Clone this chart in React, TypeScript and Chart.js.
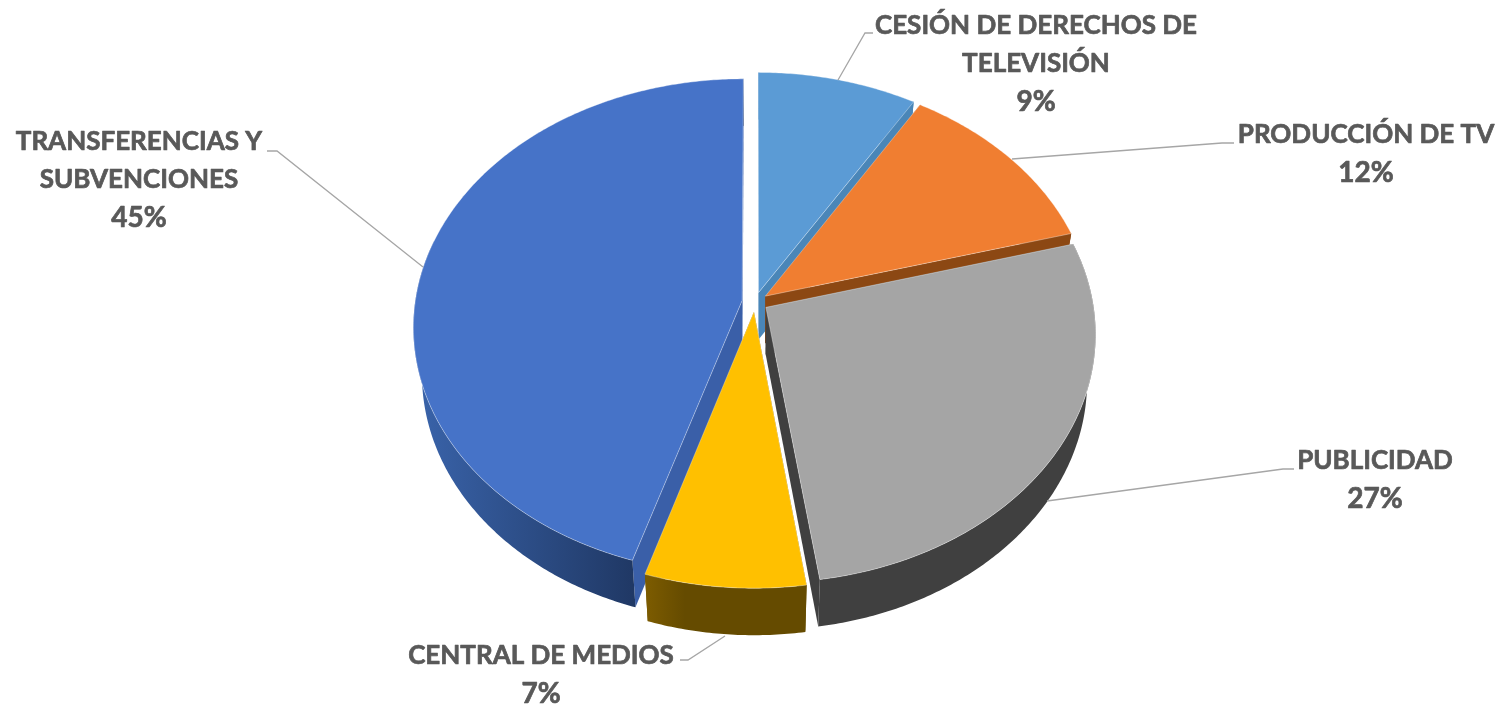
import React, { useEffect, useRef } from "react";
import { Chart, registerables } from "chart.js";

Chart.register(...registerables);

const categories = [
  "CESIÓN DE DERECHOS DE TELEVISIÓN",
  "PRODUCCIÓN DE TV",
  "PUBLICIDAD",
  "CENTRAL DE MEDIOS",
  "TRANSFERENCIAS Y SUBVENCIONES",
];
const shares = [8.7, 12.05, 26.95, 7.12, 45.18];
const topColours = ["#5b9bd5", "#f07e31", "#a5a5a5", "#ffc000", "#4673c8"];
const edgeColours = ["#4a86b8", "#8c4813", "#404040", "#6b5000", "#3a5fa8"];
const rimStartColours = ["#4a86b8", "#8c4813", "#404040", "#7d5c00", "#3a64ab"];
const rimEndColours = ["#4a86b8", "#8c4813", "#404040", "#654b00", "#1f3763"];
const labelLines = [
  ["CESIÓN DE DERECHOS DE", "TELEVISIÓN", "9%"],
  ["PRODUCCIÓN DE TV", "12%"],
  ["PUBLICIDAD", "27%"],
  ["CENTRAL DE MEDIOS", "7%"],
  ["TRANSFERENCIAS Y", "SUBVENCIONES", "45%"],
];
const labelCentres = [
  [1036, 25],
  [1366, 134],
  [1375, 460],
  [541, 655],
  [139, 141],
];
const leaders = [
  [[838, 80], [865, 33], [873, 33]],
  [[1012, 159], [1222, 143], [1234, 143]],
  [[1047, 501], [1283, 469], [1294, 469]],
  [[725, 636], [688, 660], [680, 660]],
  [[423, 267], [277, 151], [267, 151]],
];
const paintOrder = [0, 1, 4, 2, 3];

const TILT = 0.75;
const PERSPECTIVE = 0.105;
const DEPTH = 47;
const BASE_SHRINK = 0.975;
const LINE_HEIGHT = 38;

function rimGradient(ctx: CanvasRenderingContext2D) {
  const g = ctx.createLinearGradient(413, 0, 640, 0);
  g.addColorStop(0, rimStartColours[4]);
  g.addColorStop(1, rimEndColours[4]);
  return g;
}

const pie3d = {
  id: "pie3d",
  beforeDatasetDraw(chart: any) {
    const ctx = chart.ctx;
    const arcs = chart.getDatasetMeta(0).data;
    paintOrder.forEach((i) => {
      const arc = arcs[i];
      const R = arc.outerRadius;
      const off = arc.options.offset;
      const mid = (arc.startAngle + arc.endAngle) / 2;
      const dx = off * Math.cos(mid);
      const dy = off * Math.sin(mid);
      const project = (u: number, v: number): [number, number] => {
        const w = 1 - (PERSPECTIVE * v) / R;
        return [arc.x + u / w, arc.y + (TILT * v) / w];
      };
      const apex = project(dx, dy);
      const rim: [number, number][] = [];
      const steps = Math.max(4, Math.ceil((arc.endAngle - arc.startAngle) / 0.01));
      for (let s = 0; s <= steps; s++) {
        const a = arc.startAngle + ((arc.endAngle - arc.startAngle) * s) / steps;
        rim.push(project(dx + R * Math.cos(a), dy + R * Math.sin(a)));
      }
      const fillPoly = (pts: [number, number][], fill: any, stroke?: string) => {
        ctx.beginPath();
        pts.forEach((p, k) => (k ? ctx.lineTo(p[0], p[1]) : ctx.moveTo(p[0], p[1])));
        ctx.closePath();
        ctx.fillStyle = fill;
        ctx.fill();
        if (stroke) {
          ctx.strokeStyle = stroke;
          ctx.lineWidth = 1;
          ctx.stroke();
        }
      };
      const down = (p: [number, number]): [number, number] => [
        arc.x + (p[0] - arc.x) * BASE_SHRINK,
        p[1] + DEPTH,
      ];
      const first = rim[0];
      const last = rim[rim.length - 1];
      fillPoly([apex, first, down(first), down(apex)], edgeColours[i]);
      fillPoly([apex, last, down(last), down(apex)], edgeColours[i]);
      const xs = rim.map((p) => p[0]);
      const g = ctx.createLinearGradient(Math.min(...xs), 0, Math.min(...xs) + 40, 0);
      g.addColorStop(0, rimStartColours[i]);
      g.addColorStop(1, rimEndColours[i]);
      const lower = rim.filter((p, k) => k === 0 || k === rim.length - 1 || p[1] >= apex[1] - 60);
      fillPoly([...lower, ...lower.slice().reverse().map(down)], i === 4 ? rimGradient(ctx) : g);
      fillPoly([apex, ...rim], topColours[i], "rgba(255,255,255,0.35)");
    });
    return false;
  },
  afterDatasetsDraw(chart: any) {
    const ctx = chart.ctx;
    ctx.save();
    leaders.forEach((pts) => {
      ctx.beginPath();
      pts.forEach((p, k) => (k ? ctx.lineTo(p[0], p[1]) : ctx.moveTo(p[0], p[1])));
      ctx.strokeStyle = "#a6a6a6";
      ctx.lineWidth = 1.3;
      ctx.stroke();
    });
    ctx.fillStyle = "#595959";
    ctx.strokeStyle = "#595959";
    ctx.lineWidth = 0.7;
    ctx.lineJoin = "round";
    ctx.textAlign = "center";
    ctx.textBaseline = "middle";
    labelLines.forEach((lines, i) => {
      lines.forEach((t, k) => {
        ctx.font = t.endsWith("%") ? "bold 28px Lato" : "bold 26px Lato";
        const y = labelCentres[i][1] + k * LINE_HEIGHT + 1;
        ctx.fillText(t, labelCentres[i][0], y);
        ctx.strokeText(t, labelCentres[i][0], y);
      });
    });
    ctx.restore();
  },
};

export default function App() {
  const ref = useRef<HTMLCanvasElement>(null);
  useEffect(() => {
    document.body.style.margin = "0";
    document.body.style.background = "#ffffff";
    const chart = new Chart(ref.current!, {
      type: "pie",
      data: {
        labels: categories,
        datasets: [
          {
            data: shares,
            backgroundColor: topColours,
            borderWidth: 0,
            offset: 13,
          },
        ],
      },
      options: {
        responsive: false,
        animation: false,
        radius: 327,
        layout: { padding: { left: 5, bottom: 101 } },
        events: [],
        plugins: { legend: { display: false }, tooltip: { enabled: false } },
      },
      plugins: [pie3d],
    } as any);
    return () => chart.destroy();
  }, []);
  return (
    <div style={{ width: 1505, height: 705, overflow: "hidden" }}>
      <canvas ref={ref} width={1505} height={705} style={{ display: "block" }} />
    </div>
  );
}
